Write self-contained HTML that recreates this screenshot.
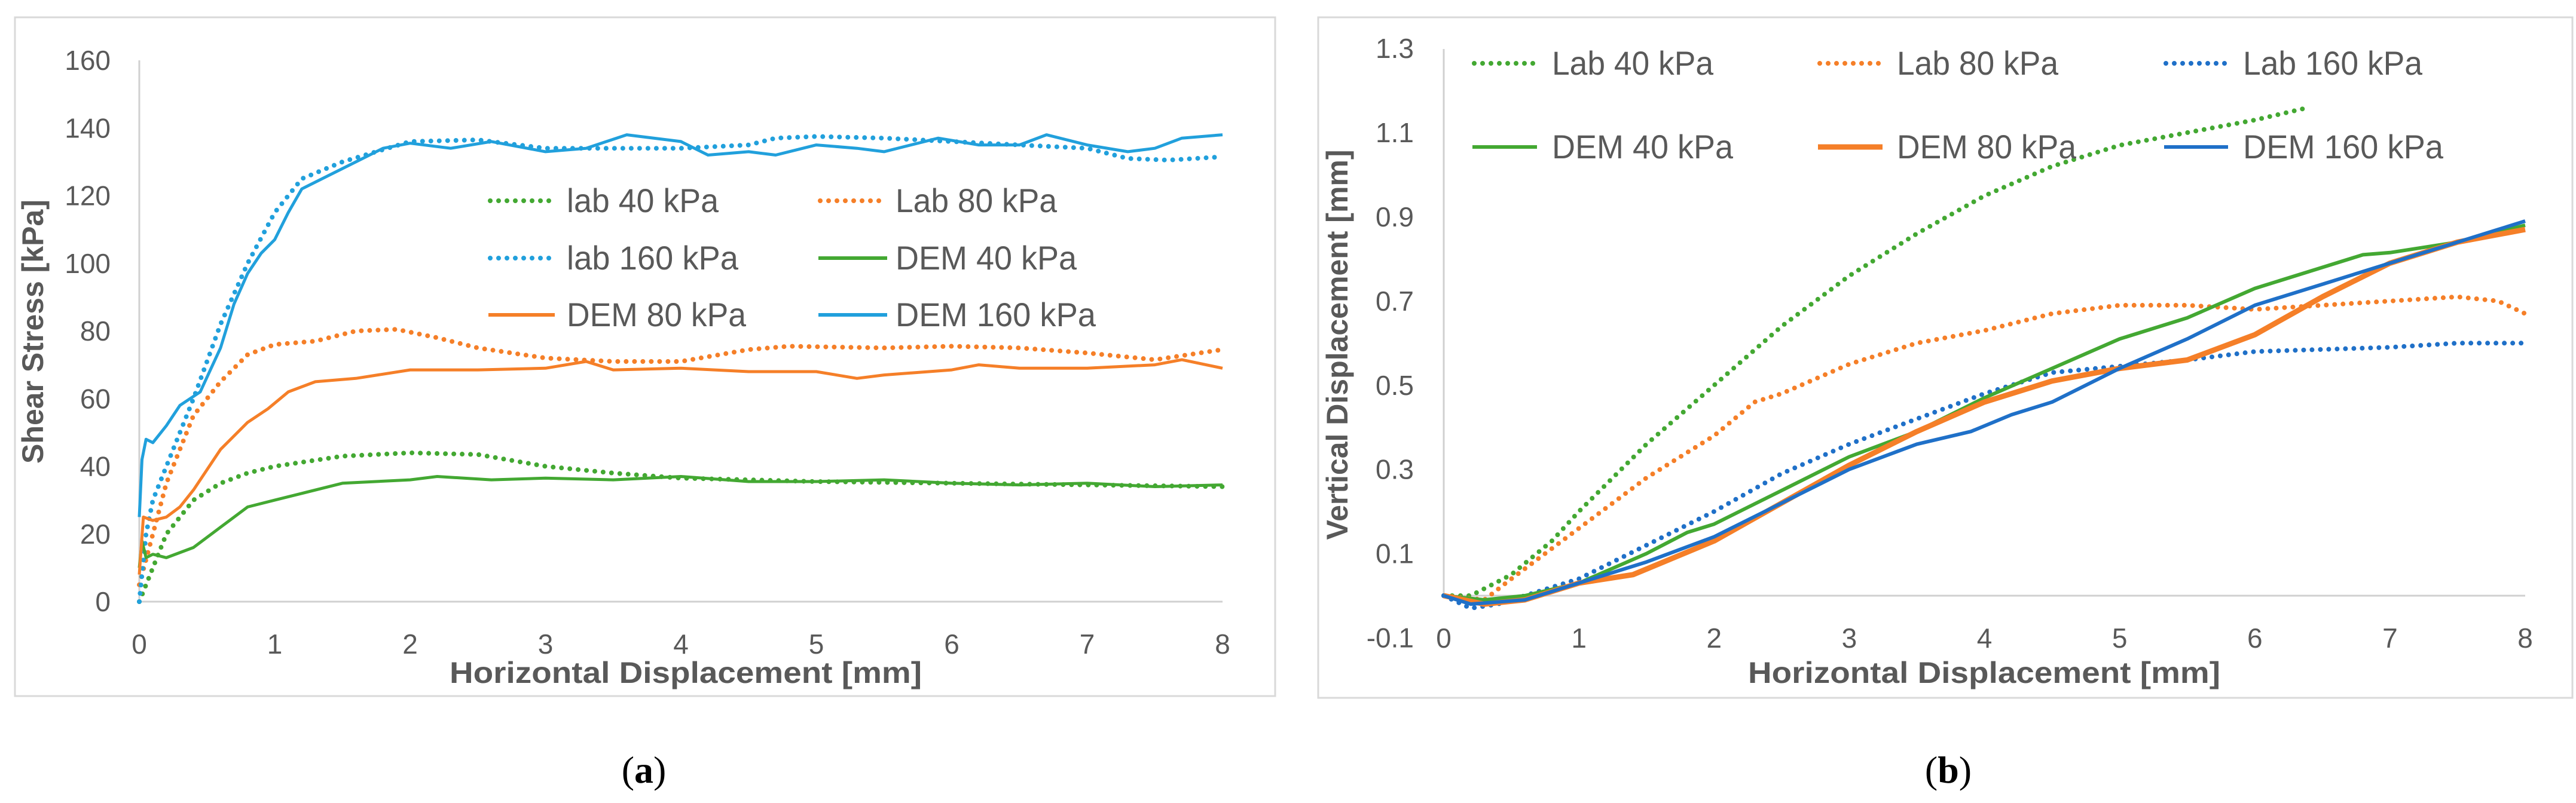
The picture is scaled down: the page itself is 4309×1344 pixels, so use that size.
<!DOCTYPE html>
<html><head><meta charset="utf-8"><style>
html,body{margin:0;padding:0;background:#fff;}
svg{display:block;font-family:"Liberation Sans",sans-serif;}
</style></head><body>
<svg id="fig" width="4309" height="1344" viewBox="0 0 4309 1344" xmlns="http://www.w3.org/2000/svg">
<rect x="0" y="0" width="4309" height="1344" fill="#fff"/>
<rect x="25" y="29" width="2108" height="1136" fill="#fff" stroke="#d9d9d9" stroke-width="3"/>
<rect x="2205" y="29" width="2098" height="1139" fill="#fff" stroke="#d9d9d9" stroke-width="3"/>
<g id="ga"></g><g id="gb"></g>
<text x="1077" y="1310" font-family="Liberation Serif,serif" font-size="64" text-anchor="middle">(<tspan font-weight="bold">a</tspan>)</text>
<text x="3259" y="1310" font-family="Liberation Serif,serif" font-size="64" text-anchor="middle">(<tspan font-weight="bold">b</tspan>)</text>
</svg>
<script>
// ---------- Panel (a) data ----------
const aLab40X=[0,0.1,0.2,0.4,0.6,0.8,1,1.5,2,2.5,3,3.5,4,4.5,5,6,7,8];
const aLab40Y=[0,10,20,30,35,38,40,43,44,43.5,40,38,36.5,36,35.5,35,34.5,34];
const aDem40X=[0,0.02,0.05,0.1,0.2,0.4,0.6,0.8,1,1.2,1.5,2,2.2,2.6,3,3.5,4,4.5,5,5.5,6,6.5,7,7.5,8];
const aDem40Y=[10,18,13,14,13,16,22,28,30,32,35,36,37,36,36.5,36,37,35.5,35.5,36,35,34.5,35,34,34.5];
const aLab80X=[0,0.1,0.2,0.3,0.4,0.6,0.8,1,1.3,1.6,1.9,2.2,2.5,3,3.5,4,4.5,4.8,5.5,6,6.5,7,7.5,8];
const aLab80Y=[5,20,35,45,55,65,73,76,77,80,80.5,78,75,72,71,71,74.5,75.5,75,75.5,75,73.5,71.5,74.5];
const aDem80X=[0,0.03,0.1,0.2,0.3,0.4,0.6,0.8,0.95,1.1,1.3,1.6,2,2.5,3,3.3,3.5,4,4.5,5,5.3,5.5,6,6.2,6.5,7,7.5,7.7,8];
const aDem80Y=[8,25,24,25,28,33,45,53,57,62,65,66,68.5,68.5,69,71,68.5,69,68,68,66,67,68.5,70,69,69,70,71.5,69];
const aLab160X=[0,0.05,0.1,0.2,0.4,0.6,0.8,1,1.2,1.5,2,2.5,3,3.5,4,4.5,4.7,5,5.5,6,6.5,7,7.3,7.6,8];
const aLab160Y=[0,20,30,40,60,82,100,115,125,130,136,136.5,134,134,134,135,137,137.5,137,136,135,134,131,130.5,131.5];
const aDem160X=[0,0.02,0.05,0.1,0.2,0.3,0.45,0.6,0.7,0.8,0.9,1,1.1,1.2,1.4,1.6,1.8,2,2.3,2.6,3,3.3,3.6,4,4.2,4.5,4.7,5,5.3,5.5,5.9,6.2,6.5,6.7,7,7.3,7.5,7.7,8];
const aDem160Y=[25,42,48,47,52,58,62,75,88,97,103,107,115,122,126,130,134,135.5,134,136,133,134,138,136,132,133,132,135,134,133,137,135,135,138,135,133,134,137,138];
const aYTicks=[0,20,40,60,80,100,120,140,160];
const xTicks=[0,1,2,3,4,5,6,7,8];
// ---------- Panel (b) data ----------
const bLab40X=[0,0.2,0.5,0.8,1,1.5,2,2.5,3,3.5,4,4.5,5,5.5,6,6.4];
const bLab40Y=[0,0,0.05,0.13,0.2,0.36,0.5,0.64,0.76,0.86,0.95,1.02,1.07,1.1,1.13,1.16];
const bLab80X=[0,0.3,0.5,1,1.5,2,2.3,2.5,3,3.5,4,4.5,5,5.5,6,6.5,7,7.5,7.8,8];
const bLab80Y=[0,-0.01,0.04,0.16,0.28,0.38,0.46,0.48,0.55,0.6,0.63,0.67,0.69,0.69,0.68,0.69,0.7,0.71,0.7,0.67];
const bLab160X=[0,0.2,0.4,0.7,1,1.5,2,2.5,3,3.5,4,4.5,5,5.5,6,7,7.5,8];
const bLab160Y=[0,-0.03,-0.02,0.01,0.04,0.12,0.2,0.29,0.36,0.42,0.48,0.53,0.545,0.56,0.58,0.59,0.6,0.6];
const bDem40X=[0,0.3,0.6,1,1.5,1.8,2,2.5,3,3.5,4,4.5,5,5.5,6,6.5,6.8,7,7.5,8];
const bDem40Y=[0,-0.01,0,0.03,0.1,0.15,0.17,0.25,0.33,0.39,0.47,0.54,0.61,0.66,0.73,0.78,0.81,0.815,0.84,0.88];
const bDem80X=[0,0.3,0.6,1,1.4,2,2.5,3,3.5,4,4.5,5,5.5,6,6.5,7,7.5,8];
const bDem80Y=[0,-0.02,-0.01,0.03,0.05,0.13,0.22,0.31,0.39,0.46,0.51,0.54,0.56,0.62,0.71,0.79,0.84,0.87];
const bDem160X=[0,0.2,0.6,1,1.5,2,2.5,3,3.5,3.9,4.2,4.5,5,5.5,6,6.5,7,7.5,8];
const bDem160Y=[0,-0.02,-0.01,0.03,0.08,0.14,0.22,0.3,0.36,0.39,0.43,0.46,0.54,0.61,0.69,0.74,0.79,0.84,0.89];
const bYTicks=[-0.1,0.1,0.3,0.5,0.7,0.9,1.1,1.3];

const NS="http://www.w3.org/2000/svg";
const G="#43a832",O="#f57f28",LB="#21a0dc",B="#1f70c8";
function mk(p,t,at){const e=document.createElementNS(NS,t);for(const k in at)e.setAttribute(k,at[k]);p.appendChild(e);return e;}

const ax=v=>233+v*(2045-233)/8, ay=v=>1007-v*(1007-101)/160;
const bx=v=>2415+v*(4224-2415)/8, by=v=>997-v*(140.9/0.2);

function drawPanel(g,sx,sy,yTicks,yFmt,zeroY,axisTop,labelX,xLabY,xTitleX,yTitleX,yTitleY,yTitle){
  let l=mk(g,'line',{x1:sx(0),x2:sx(0),y1:axisTop,y2:zeroY,stroke:'#d0d0d0','stroke-width':3});
  
  l=mk(g,'line',{x1:sx(0),x2:sx(8),y1:zeroY,y2:zeroY,stroke:'#d0d0d0','stroke-width':3});
  
  yTicks.forEach(v=>{const t=mk(g,'text',{x:labelX,y:sy(v)+16,'font-size':46,fill:'#595959','text-anchor':'end'});t.textContent=yFmt(v);
    });
  xTicks.forEach(v=>{const t=mk(g,'text',{x:sx(v),y:xLabY,'font-size':46,fill:'#595959','text-anchor':'middle'});t.textContent=v;
    });
  let t=mk(g,'text',{x:xTitleX,y:1143,'font-size':50,'font-weight':'bold',fill:'#595959','text-anchor':'middle',textLength:790,lengthAdjust:'spacingAndGlyphs'});
  t.textContent='Horizontal Displacement [mm]';
  t=mk(g,'text',{x:0,y:0,'font-size':50,'font-weight':'bold',fill:'#595959','text-anchor':'middle',transform:`translate(${yTitleX},${yTitleY}) rotate(-90)`});
  t.textContent=yTitle;
}
function series(g,xs,ys,sx,sy,color,dotted,w,name){
  const d=xs.map((x,i)=>(i?'L':'M')+sx(x).toFixed(1)+','+sy(ys[i]).toFixed(1)).join('');
  const at={d:d,fill:'none',stroke:color,'stroke-width':w,'stroke-linejoin':'round'};
  if(dotted){at['stroke-dasharray']='0 14';at['stroke-linecap']='round';}
  const p=mk(g,'path',at);
  
  
}
function legend(g,x1,x2,tx,y,color,dotted,w,label,tl,name){
  const at={x1:x1,x2:x2,y1:y,y2:y,stroke:color,'stroke-width':w};
  if(dotted){at['stroke-dasharray']='0 14';at['stroke-linecap']='round';}
  const l=mk(g,'line',at);
  
  
  const t=mk(g,'text',{x:tx,y:y+19,'font-size':56,fill:'#595959',textLength:tl,lengthAdjust:'spacingAndGlyphs'});
  t.textContent=label;
  
  
}

const ga=document.getElementById('ga');
drawPanel(ga,ax,ay,aYTicks,v=>String(v),1007,101,185,1094,1147,72,555,'Shear Stress [kPa]');
series(ga,aLab40X,aLab40Y,ax,ay,G,true,8,'series-lab-40');
series(ga,aLab80X,aLab80Y,ax,ay,O,true,8,'series-lab-80');
series(ga,aLab160X,aLab160Y,ax,ay,LB,true,8,'series-lab-160');
series(ga,aDem40X,aDem40Y,ax,ay,G,false,5,'series-dem-40');
series(ga,aDem80X,aDem80Y,ax,ay,O,false,5,'series-dem-80');
series(ga,aDem160X,aDem160Y,ax,ay,LB,false,5,'series-dem-160');
legend(ga,820,928,948,336,G,true,8,'lab 40 kPa',254,'legend-entry-lab-40');
legend(ga,1372,1484,1498,336,O,true,8,'Lab 80 kPa',270,'legend-entry-lab-80');
legend(ga,820,928,948,432,LB,true,8,'lab 160 kPa',287,'legend-entry-lab-160');
legend(ga,1369,1484,1498,432,G,false,6,'DEM 40 kPa',303,'legend-entry-dem-40');
legend(ga,817,928,948,527,O,false,6,'DEM 80 kPa',300,'legend-entry-dem-80');
legend(ga,1369,1484,1498,527,LB,false,6,'DEM 160 kPa',335,'legend-entry-dem-160');

const gb=document.getElementById('gb');
drawPanel(gb,bx,by,bYTicks,v=>v.toFixed(1),997,82,2365,1084,3319,2254,577,'Vertical Displacement [mm]');
series(gb,bLab40X,bLab40Y,bx,by,G,true,8,'series-lab-40');
series(gb,bLab80X,bLab80Y,bx,by,O,true,8,'series-lab-80');
series(gb,bLab160X,bLab160Y,bx,by,B,true,8,'series-lab-160');
series(gb,bDem40X,bDem40Y,bx,by,G,false,6,'series-dem-40');
series(gb,bDem80X,bDem80Y,bx,by,O,false,9,'series-dem-80');
series(gb,bDem160X,bDem160Y,bx,by,B,false,6,'series-dem-160');
legend(gb,2466,2571,2596,106,G,true,8,'Lab 40 kPa',270,'legend-entry-lab-40');
legend(gb,3044,3149,3173,106,O,true,8,'Lab 80 kPa',270,'legend-entry-lab-80');
legend(gb,3623,3727,3752,106,B,true,8,'Lab 160 kPa',300,'legend-entry-lab-160');
legend(gb,2463,2571,2596,246,G,false,6,'DEM 40 kPa',303,'legend-entry-dem-40');
legend(gb,3041,3149,3173,246,O,false,9,'DEM 80 kPa',300,'legend-entry-dem-80');
legend(gb,3620,3727,3752,246,B,false,6,'DEM 160 kPa',335,'legend-entry-dem-160');
</script>
</body></html>
